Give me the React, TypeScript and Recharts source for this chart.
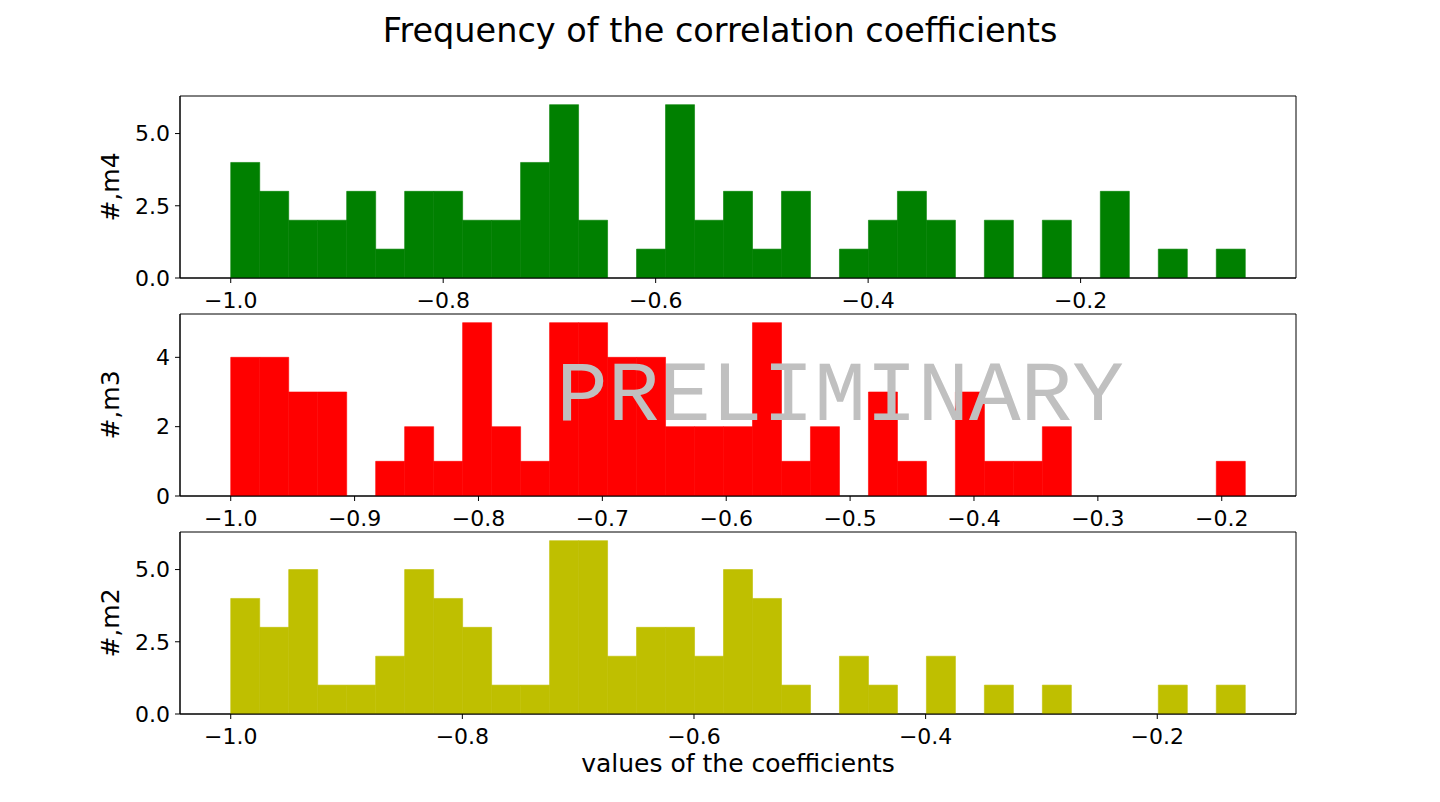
import { Bar, BarChart, CartesianGrid, XAxis, YAxis } from "recharts";

// counts per bin (35 bins each)
const m4Counts = [
  4, 3, 2, 2, 3, 1, 3, 3, 2, 2, 4, 6, 2, 0, 1, 6, 2, 3, 1, 3, 0, 1, 2, 3, 2, 0,
  2, 0, 2, 0, 3, 0, 1, 0, 1,
];
const m3Counts = [
  4, 4, 3, 3, 0, 1, 2, 1, 5, 2, 1, 5, 5, 4, 4, 2, 2, 2, 5, 1, 2, 0, 3, 1, 0, 3,
  1, 1, 2, 0, 0, 0, 0, 0, 1,
];
const m2Counts = [
  4, 3, 5, 1, 1, 2, 5, 4, 3, 1, 1, 6, 6, 2, 3, 3, 2, 5, 4, 1, 0, 2, 1, 0, 2, 0,
  1, 0, 1, 0, 0, 0, 1, 0, 1,
];

// histogram ranges (min, max of the coefficients)
const m4Range = [-1.0, -0.045];
const m3Range = [-1.0, -0.181];
const m2Range = [-1.0, -0.124];

const m4XTicks = [-1.0, -0.8, -0.6, -0.4, -0.2];
const m3XTicks = [-1.0, -0.9, -0.8, -0.7, -0.6, -0.5, -0.4, -0.3, -0.2];
const m2XTicks = [-1.0, -0.8, -0.6, -0.4, -0.2];

const m4YTicks = [0, 2.5, 5];
const m3YTicks = [0, 2, 4];
const m2YTicks = [0, 2.5, 5];

const FONT = "'DejaVu Sans', sans-serif";

const minus = (s: string) => s.replace("-", "\u2212");

interface PanelProps {
  counts: number[];
  range: number[];
  xTicks: number[];
  yTicks: number[];
  yDigits: number;
  color: string;
  yLabel: string;
  top: number;
}

function Panel({ counts, range, xTicks, yTicks, yDigits, color, yLabel, top }: PanelProps) {
  const [lo, hi] = range;
  const span = hi - lo;
  const binWidth = span / counts.length;
  // bar sits at the centre of its bin, like plt.hist
  const data = counts.map((count, i) => ({ mid: lo + (i + 0.5) * binWidth, count }));
  const yMax = Math.max(...counts) * 1.05;

  return (
    <div style={{ position: "absolute", left: 0, top }}>
      <BarChart
        width={1440}
        height={232}
        data={data}
        margin={{ top: 10, right: 144, bottom: 0, left: 40 }}
        barCategoryGap={0}
        barGap={0}
      >
        <CartesianGrid
          stroke="#000"
          fill="none"
          horizontalCoordinatesGenerator={({ offset }: any) => [
            offset.top,
            offset.top + offset.height,
          ]}
          verticalCoordinatesGenerator={({ offset }: any) => [
            offset.left,
            offset.left + offset.width,
          ]}
        />
        <XAxis
          dataKey="mid"
          type="number"
          domain={[lo - 0.05 * span, hi + 0.05 * span]}
          allowDataOverflow
          ticks={xTicks}
          interval={0}
          tickFormatter={(v: number) => minus(v.toFixed(1))}
          height={40}
          tickSize={5}
          tickMargin={9}
          stroke="#000"
          tick={{ fill: "#000", fontSize: 22, fontFamily: FONT }}
        />
        <YAxis
          type="number"
          domain={[0, yMax]}
          allowDataOverflow
          ticks={yTicks}
          interval={0}
          tickFormatter={(v: number) => v.toFixed(yDigits)}
          width={140}
          tickSize={5}
          tickMargin={5}
          stroke="#000"
          tick={{ fill: "#000", fontSize: 22, fontFamily: FONT }}
          label={{
            value: yLabel,
            angle: -90,
            position: "center",
            fill: "#000",
            fontSize: 25,
            fontFamily: FONT,
          }}
        />
        <Bar
          dataKey="count"
          fill={color}
          stroke={color}
          strokeWidth={0.6}
          isAnimationActive={false}
        />
      </BarChart>
    </div>
  );
}

export default function App() {
  return (
    <div
      style={{
        position: "absolute",
        left: 0,
        top: 0,
        width: 1440,
        height: 802,
        background: "#fff",
        fontFamily: FONT,
      }}
    >
      <Panel counts={m4Counts} range={m4Range} xTicks={m4XTicks} yTicks={m4YTicks} yDigits={1} color="#008000" yLabel="#,m4" top={86} />
      <Panel counts={m3Counts} range={m3Range} xTicks={m3XTicks} yTicks={m3YTicks} yDigits={0} color="#ff0000" yLabel="#,m3" top={304} />
      <Panel counts={m2Counts} range={m2Range} xTicks={m2XTicks} yTicks={m2YTicks} yDigits={1} color="#bfbf00" yLabel="#,m2" top={522} />
      <svg
        width={1440}
        height={802}
        style={{ position: "absolute", left: 0, top: 0, pointerEvents: "none" }}
      >
        <text x={720} y={42} textAnchor="middle" fontSize={33.5} fontFamily={FONT} fill="#000">
          Frequency of the correlation coefficients
        </text>
        <text x={738} y={772} textAnchor="middle" fontSize={25} fontFamily={FONT} fill="#000">
          values of the coefficients
        </text>
        <text
          x={840}
          y={420}
          textAnchor="middle"
          fontSize={86}
          fontFamily="'Courier New', 'Liberation Mono', monospace"
          fill="#c0c0c0"
        >
          PRELIMINARY
        </text>
      </svg>
    </div>
  );
}
